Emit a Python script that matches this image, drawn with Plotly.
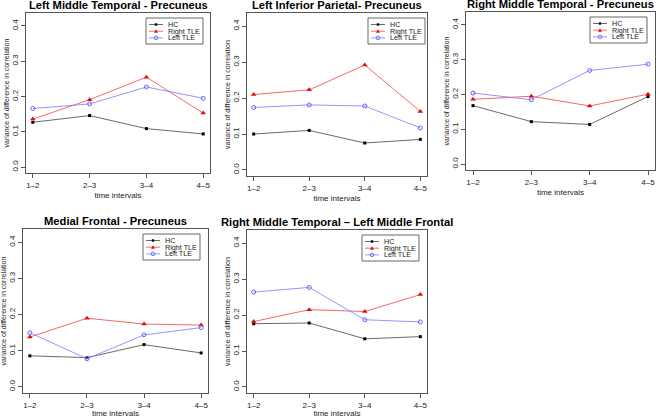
import plotly.graph_objects as go

W, H = 656, 418

time_labels = ["1–2", "2–3", "3–4", "4–5"]
y_ticks = [0.0, 0.1, 0.2, 0.3, 0.4]
y_tick_text = ["0.0", "0.1", "0.2", "0.3", "0.4"]
series_names = ["HC", "Right TLE", "Left TLE"]

titles = [
    "Left Middle Temporal - Precuneus",
    "Left Inferior Parietal- Precuneus",
    "Right Middle Temporal - Precuneus",
    "Medial Frontal - Precuneus",
    "Right Middle Temporal – Left Middle Frontal",
]

hc = [
    [0.127, 0.146, 0.109, 0.094],
    [0.100, 0.110, 0.075, 0.085],
    [0.168, 0.122, 0.114, 0.194],
    [0.086, 0.081, 0.117, 0.094],
    [0.176, 0.178, 0.134, 0.140],
]
right_tle = [
    [0.136, 0.191, 0.255, 0.153],
    [0.210, 0.223, 0.292, 0.163],
    [0.186, 0.195, 0.167, 0.201],
    [0.138, 0.190, 0.174, 0.171],
    [0.182, 0.215, 0.210, 0.257],
]
left_tle = [
    [0.166, 0.179, 0.227, 0.195],
    [0.174, 0.181, 0.178, 0.117],
    [0.204, 0.185, 0.269, 0.287],
    [0.150, 0.078, 0.144, 0.164],
    [0.264, 0.277, 0.187, 0.181],
]

# panel frames in pixels: (x0, x1, y0, y1) and legend gap from right edge
frames = [
    (26, 210, 13, 173, 7),
    (247, 427, 13, 176, 2),
    (466, 655, 12, 170, 8),
    (23, 208, 229, 393, 8),
    (247, 427, 230, 393, 8),
]

colors = ["#444444", "#ee4444", "#7a7aff"]
mcolors = ["black", "#dd1111", "#6666ff"]
styles = [
    dict(line=dict(color=colors[0], width=0.8),
         marker=dict(symbol="square", size=3, color=mcolors[0])),
    dict(line=dict(color=colors[1], width=0.8),
         marker=dict(symbol="triangle-up", size=5, color=mcolors[1])),
    dict(line=dict(color=colors[2], width=0.8),
         marker=dict(symbol="circle-open", size=4, color=mcolors[2], line=dict(width=1))),
]

FONT = "Liberation Sans, Arial, sans-serif"


def fx(px):
    return px / W


def fy(py):
    return 1 - py / H


fig = go.Figure()
annotations = []
shapes = []
layout = {}

for i in range(5):
    x0, x1, y0, y1, lgap = frames[i]
    sfx = "" if i == 0 else str(i + 1)
    xa, ya = "x" + sfx, "y" + sfx
    xpos = list(range(len(time_labels)))
    for name, data, st in zip(series_names, [hc, right_tle, left_tle], styles):
        fig.add_trace(go.Scatter(
            x=xpos, y=data[i], name=name, mode="lines+markers",
            line=st["line"], marker=st["marker"],
            xaxis=xa, yaxis=ya, showlegend=False,
        ))
    common = dict(showline=True, linecolor="#555555", linewidth=1, mirror=True,
                  ticks="outside", ticklen=4, tickcolor="#555555",
                  showgrid=False, zeroline=False,
                  tickfont=dict(size=8, color="#222222", family=FONT))
    layout["xaxis" + sfx] = dict(
        domain=[fx(x0), fx(x1)], anchor=ya, range=[-0.12, 3.12],
        tickvals=xpos, ticktext=time_labels,
        title=dict(text="time intervals", font=dict(size=8, color="#222222", family=FONT), standoff=3),
        **common)
    layout["yaxis" + sfx] = dict(
        domain=[fy(y1), fy(y0)], anchor=xa, range=[-0.0168, 0.4368],
        tickvals=y_ticks, ticktext=y_tick_text, tickangle=-90,
        title=dict(text="variance of difference in correlation",
                   font=dict(size=7, color="#222222", family=FONT), standoff=0),
        **common)

    # title
    annotations.append(dict(
        text="<b>" + titles[i] + "</b>", x=fx((x0 + x1) / 2), y=fy(y0 - 8),
        xref="paper", yref="paper", showarrow=False, xanchor="center", yanchor="middle",
        font=dict(size=11.2, color="black", family=FONT),
    ))

    # legend box (R-style compact legend)
    bw, bh = 57, 26
    bx1 = x1 - lgap
    bx0 = bx1 - bw
    by0 = y0 + 5
    shapes.append(dict(type="rect", xref="paper", yref="paper",
                       x0=fx(bx0), x1=fx(bx1), y0=fy(by0), y1=fy(by0 + bh),
                       line=dict(color="#666666", width=1), fillcolor="white", layer="above"))
    for k, name in enumerate(series_names):
        ry = by0 + 6.5 + k * 6.7
        shapes.append(dict(type="line", xref="paper", yref="paper",
                           x0=fx(bx0 + 3), x1=fx(bx0 + 17), y0=fy(ry), y1=fy(ry),
                           line=dict(color=colors[k], width=0.8), layer="above"))
        mx = bx0 + 10
        if k == 0:
            shapes.append(dict(type="rect", xref="paper", yref="paper",
                               x0=fx(mx - 1.2), x1=fx(mx + 1.2), y0=fy(ry - 1.2), y1=fy(ry + 1.2),
                               line=dict(width=0), fillcolor=mcolors[0], layer="above"))
        elif k == 1:
            path = "M {} {} L {} {} L {} {} Z".format(
                fx(mx - 2), fy(ry + 1.6), fx(mx + 2), fy(ry + 1.6), fx(mx), fy(ry - 2))
            shapes.append(dict(type="path", xref="paper", yref="paper", path=path,
                               line=dict(width=0), fillcolor=mcolors[1], layer="above"))
        else:
            shapes.append(dict(type="circle", xref="paper", yref="paper",
                               x0=fx(mx - 1.8), x1=fx(mx + 1.8), y0=fy(ry - 1.8), y1=fy(ry + 1.8),
                               line=dict(color=mcolors[2], width=0.9), fillcolor="rgba(0,0,0,0)",
                               layer="above"))
        annotations.append(dict(
            text=name, x=fx(bx0 + 20), y=fy(ry), xref="paper", yref="paper",
            showarrow=False, xanchor="left", yanchor="middle",
            font=dict(size=7.2, color="#222222", family=FONT),
        ))

fig.update_layout(
    width=W, height=H, margin=dict(l=0, r=0, t=0, b=0),
    paper_bgcolor="white", plot_bgcolor="white",
    annotations=annotations, shapes=shapes, **layout,
)
fig.write_html("out.html",
               config={"displayModeBar": False},
               post_script="document.body.style.margin='0';document.body.style.overflow='hidden';")
